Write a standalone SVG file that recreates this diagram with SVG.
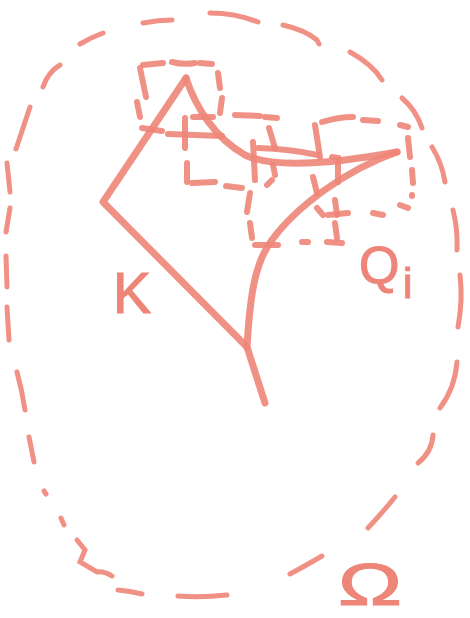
<svg xmlns="http://www.w3.org/2000/svg" width="470" height="618" viewBox="0 0 470 618">
<style>
.k{fill:none;stroke:#EE8579;stroke-width:7;stroke-linecap:round;stroke-linejoin:round;opacity:0.9}
.c{fill:none;stroke:#EE8579;stroke-width:6;stroke-linecap:round;opacity:0.9}
.o{fill:none;stroke:#F08A7E;stroke-width:5;stroke-linecap:round;opacity:0.95}
.t{fill:#EE8579;stroke:#EE8579;stroke-width:1.2;font-family:"Liberation Sans",Arial,sans-serif}
</style>
<rect width="470" height="618" fill="#ffffff"/>
<g id="omega-boundary">
<path class="o" d="M143,23 Q158,20 172,20"/>
<path class="o" d="M210,13 Q235,13 258,22"/>
<path class="o" d="M283,25 Q305,30 317,40 L319,44"/>
<path class="o" d="M350,52 Q372,64 382,80"/>
<path class="o" d="M402,98 Q416,110 422,128"/>
<path class="o" d="M432,147 Q442,163 445,182"/>
<path class="o" d="M453,210 Q458,230 457,250"/>
<path class="o" d="M460,275 Q463,300 458,327"/>
<path class="o" d="M457,362 Q455,388 440,408"/>
<path class="o" d="M433,435 Q432,452 418,463"/>
<path class="o" d="M395,497 Q382,513 368,528"/>
<path class="o" d="M322,556 Q305,566 290,574"/>
<path class="o" d="M227,595 Q200,598 178,596"/>
<path class="o" d="M142,594 Q130,591 118,590"/>
<path class="o" d="M112,576 Q104,571 97,572 L80,562 L85,550 L77,540"/>
<path class="o" d="M61,518 L64,525"/>
<path class="o" d="M44,491 L46,494"/>
<path class="o" d="M34,462 L29,437"/>
<path class="o" d="M25,410 Q22,390 17,372"/>
<path class="o" d="M9,340 L7,307"/>
<path class="o" d="M7,287 L6,256"/>
<path class="o" d="M6,232 L10,208"/>
<path class="o" d="M10,192 L7,163"/>
<path class="o" d="M16,149 L30,107"/>
<path class="o" d="M43,87 Q48,72 60,65"/>
<path class="o" d="M80,44 Q92,37 103,33"/>
</g>
<g id="cubes">
<path class="c" d="M143,65 L163,63"/>
<path class="c" d="M172,62 Q183,65 195,63"/>
<path class="c" d="M200,63 L212,64"/>
<path class="c" d="M140,68 L146,97"/>
<path class="c" d="M137,102 L140,117"/>
<path class="c" d="M218,73 L220,88"/>
<path class="c" d="M222,98 L220,113"/>
<path class="c" d="M142,128 L162,131"/>
<path class="c" d="M168,134 L222,136"/>
<path class="c" d="M185,118 L185,148"/>
<path class="c" d="M193,117 L213,117"/>
<path class="c" d="M187,163 L187,182"/>
<path class="c" d="M192,183 L215,182"/>
<path class="c" d="M226,186 L242,188"/>
<path class="c" d="M235,115 L260,116"/>
<path class="c" d="M265,117 L277,118"/>
<path class="c" d="M253,142 L255,180"/>
<path class="c" d="M269,128 L275,148"/>
<path class="c" d="M273,165 L275,175"/>
<path class="c" d="M272,180 L267,185"/>
<path class="c" d="M258,148 Q290,149 318,155"/>
<path class="c" d="M315,125 L320,157"/>
<path class="c" d="M313,177 L317,193"/>
<path class="c" d="M332,157 L338,158 L338,182"/>
<path class="c" d="M322,122 Q338,117 353,117"/>
<path class="c" d="M363,120 L378,121"/>
<path class="c" d="M400,125 L408,127"/>
<path class="c" d="M408,138 L410,157"/>
<path class="c" d="M412,170 L413,183"/>
<path class="c" d="M412,195 L412,196"/>
<path class="c" d="M400,205 L408,208"/>
<path class="c" d="M373,213 L383,215"/>
<path class="c" d="M335,200 L337,215"/>
<path class="c" d="M317,208 L323,215"/>
<path class="c" d="M328,215 L348,213"/>
<path class="c" d="M335,223 L337,238"/>
<path class="c" d="M327,242 L342,243"/>
<path class="c" d="M302,242 L308,242"/>
<path class="c" d="M250,193 L247,212"/>
<path class="c" d="M250,223 L252,238"/>
<path class="c" d="M255,245 L278,245"/>
</g>
<g id="K-set">
<path class="k" d="M186,78 L103,202 L247,347 L265,403"/>
<path class="k" d="M247,347 C250,295 255,262 272,240 C295,208 345,170 397,152"/>
<path class="k" d="M186,78 C196,108 215,138 245,155 C270,167 320,166 397,152"/>
</g>
<g id="labels">
<text class="t" x="113" y="313" font-size="57">K</text>
<text class="t" x="359" y="283" font-size="52">Q</text>
<text class="t" x="403" y="298" font-size="42">i</text>
<text class="t" x="338" y="605" font-size="60" textLength="64" lengthAdjust="spacingAndGlyphs">Ω</text>
</g>
</svg>
